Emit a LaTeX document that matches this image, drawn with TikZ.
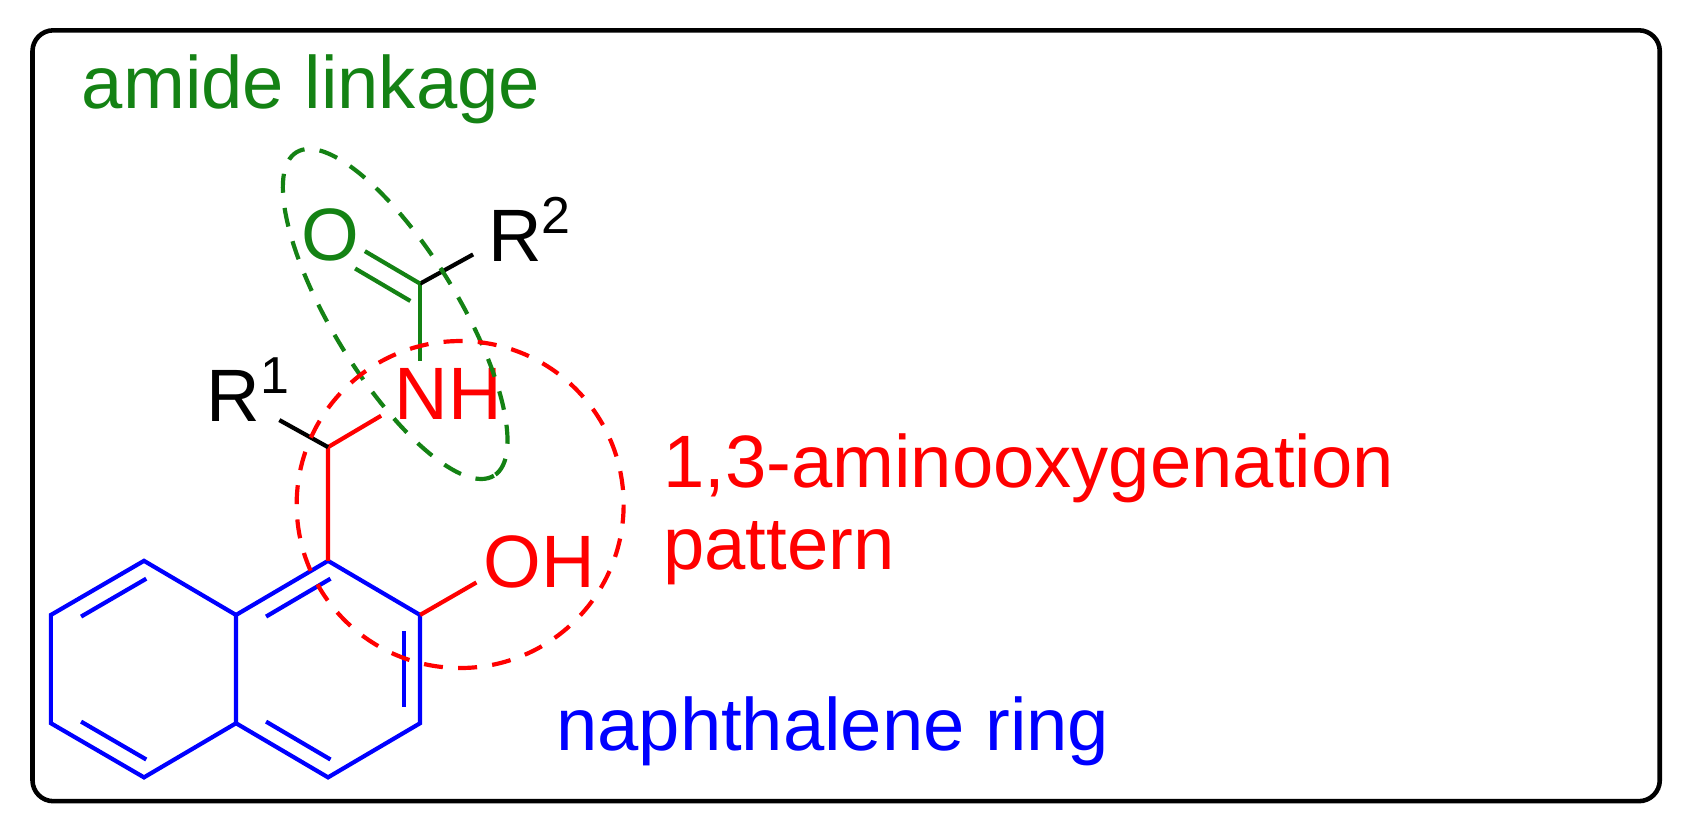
\documentclass[tikz,border=0pt]{standalone}
\usepackage{fontspec}
\setmainfont{Liberation Sans}
\usetikzlibrary{calc}
\definecolor{dg}{RGB}{20,130,20}
\begin{document}
\begin{tikzpicture}[x=0.01cm,y=-0.01cm,
  bond/.style={line width=1.1pt},
  atom/.style={font=\fontsize{19.5}{20}\selectfont, inner sep=0pt},
  lbl/.style={font=\fontsize{19.5}{21.5}\selectfont, inner sep=0pt, anchor=base west, align=left},
  dsh/.style={line width=1.1pt, dash pattern=on 5pt off 4pt}]
\useasboundingbox (0,0) rectangle (1560,761);
\draw[line width=1.2pt, rounded corners=5.5pt] (30,28) rectangle (1533,740);
% naphthalene
\coordinate (a1) at (133,518); \coordinate (a2) at (218,568); \coordinate (a3) at (218,668);
\coordinate (a4) at (133,718); \coordinate (a5) at (47,668); \coordinate (a6) at (47,568);
\coordinate (b1) at (303,518); \coordinate (b2) at (388,568); \coordinate (b3) at (388,668);
\coordinate (b4) at (303,718);
\draw[bond,blue] (a1)--(a2)--(a3)--(a4)--(a5)--(a6)--cycle;
\draw[bond,blue] (a2)--(b1)--(b2)--(b3)--(b4)--(a3);
\draw[bond,blue] ($(a6)!0.15!(a1)+(15,9)$) -- ($(a6)!0.85!(a1)+(15,9)$);
\draw[bond,blue] ($(a5)!0.15!(a4)+(15,-9)$) -- ($(a5)!0.85!(a4)+(15,-9)$);
\draw[bond,blue] ($(a2)!0.15!(b1)+(15,9)$) -- ($(a2)!0.85!(b1)+(15,9)$);
\draw[bond,blue] ($(a3)!0.15!(b4)+(15,-9)$) -- ($(a3)!0.85!(b4)+(15,-9)$);
\draw[bond,blue] ($(b2)!0.15!(b3)+(-15,0)$) -- ($(b2)!0.85!(b3)+(-15,0)$);
% substituents
\coordinate (ch) at (303,413);
\coordinate (cc) at (388,262);
\node[atom,red] (nh) at (414,364) {NH};
\node[atom,red] (oh) at (498,519) {OH};
\node[atom] (r1) at (230,360) {R\textsuperscript{1}};
\node[atom] (r2) at (490,212) {R\textsuperscript{2}};
\node[atom,dg] (o) at (305,217) {O};
\draw[bond,red] (b1)--(ch)--(352,384);
\draw[bond] (ch)--(258,388);
\draw[bond,red] (b2)--(440,538);
\draw[bond,dg] (cc)--(388,333);
\draw[bond] (cc)--(437,235);
\draw[bond,dg] (cc)--(337,232);
\draw[bond,dg] (379,278)--(328,248);
% highlights
\draw[dsh,dg] (365,290) ellipse[x radius=175, y radius=58, rotate=-58.6];
\draw[dsh,red] (425,466) circle[radius=151];
% labels
\node[lbl,dg] (l1) at (75,100) {amide linkage};
\node[lbl,red] (l2) at (612,526) {1,3-aminooxygenation\\pattern};
\node[lbl,blue] (l3) at (513,693) {naphthalene ring};
\end{tikzpicture}
\end{document}
